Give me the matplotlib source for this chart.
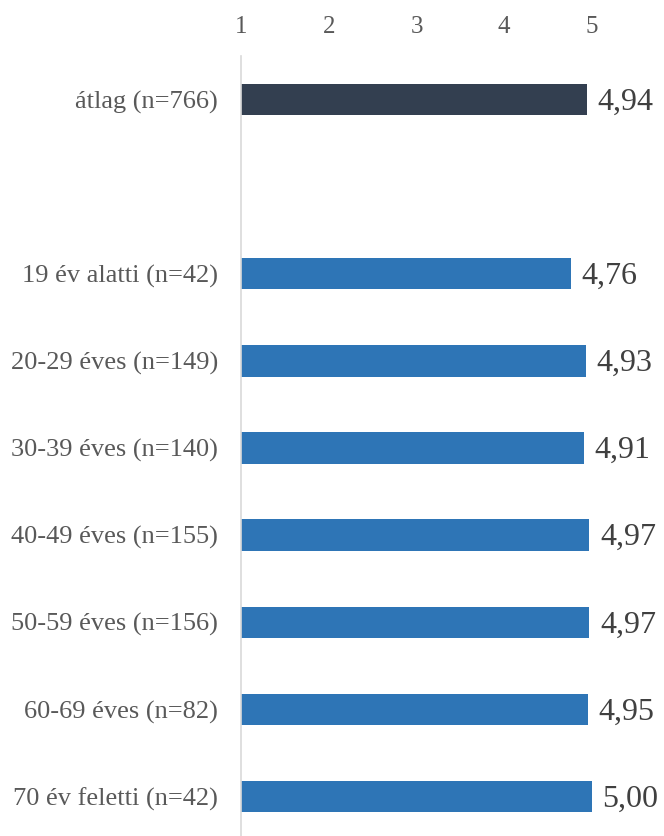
import matplotlib
matplotlib.use("Agg")
import matplotlib.pyplot as plt

categories = ["átlag (n=766)", "", "19 év alatti (n=42)", "20-29 éves (n=149)",
              "30-39 éves (n=140)", "40-49 éves (n=155)", "50-59 éves (n=156)",
              "60-69 éves (n=82)", "70 év feletti (n=42)"]
values = [4.94, None, 4.76, 4.93, 4.91, 4.97, 4.97, 4.95, 5.00]
value_labels = ["4,94", "", "4,76", "4,93", "4,91", "4,97", "4,97", "4,95", "5,00"]
xticks = [1, 2, 3, 4, 5]

plt.rcParams['font.family'] = ['Liberation Serif', 'DejaVu Serif']

W, H = 664, 836
fig = plt.figure(figsize=(W / 100, H / 100), dpi=100)
left = 241 / W
right = 592 / W
top = 56 / H
bottom = 840 / H
ax = fig.add_axes([left, 1 - bottom, right - left, bottom - top])

base = 1
for i, (v, lab) in enumerate(zip(values, value_labels)):
    if v is None:
        continue
    color = "#333f50" if i == 0 else "#2e75b6"
    ax.barh(i, v - base, left=base, height=0.36, color=color)
    ax.text(v + 0.12, i + 0.03, lab, va="center", ha="left", fontsize=23,
            color="#404040", clip_on=False)

ax.set_ylim(len(categories) - 0.5, -0.5)
ax.set_xlim(1, 5)
ax.set_yticks(range(len(categories)))
ax.set_yticklabels(categories, fontsize=19, color="#595959")
ax.set_xticks(xticks)
ax.set_xticklabels([str(t) for t in xticks], fontsize=18, color="#595959")
ax.xaxis.tick_top()
ax.tick_params(axis="x", length=0, pad=13)
ax.tick_params(axis="y", length=0, pad=16.5)
for s in ["top", "right", "bottom"]:
    ax.spines[s].set_visible(False)
ax.spines["left"].set_color("#d9d9d9")
ax.spines["left"].set_linewidth(1.2)

fig.savefig("out.png", dpi=100)
